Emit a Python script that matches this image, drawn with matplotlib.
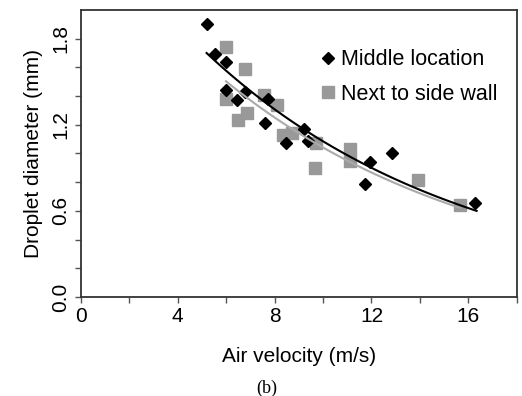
import matplotlib.pyplot as plt
import numpy as np

plt.rcParams['font.family'] = ['Liberation Sans', 'DejaVu Sans']

# middle location (black diamonds)
v_mid = [5.19, 5.53, 5.99, 5.99, 6.43, 6.78, 7.73, 7.61, 9.22, 8.49, 9.36, 11.93, 11.73, 12.84, 16.27]
d_mid = [1.90, 1.69, 1.64, 1.44, 1.37, 1.43, 1.38, 1.21, 1.17, 1.075, 1.09, 0.94, 0.79, 1.00, 0.655]

# next to side wall (grey squares)
v_wall = [5.99, 6.77, 5.99, 7.56, 8.10, 6.84, 6.50, 8.35, 8.70, 9.70, 9.66, 11.13, 11.13, 13.93, 15.65]
d_wall = [1.74, 1.59, 1.38, 1.41, 1.34, 1.28, 1.23, 1.13, 1.145, 1.07, 0.90, 1.03, 0.95, 0.815, 0.64]

# exponential trend lines d = a*exp(b*v)
fit_mid = (2.76, -0.0934, 5.19, 16.34)
fit_wall = (2.60, -0.0915, 5.99, 15.65)

fig = plt.figure(figsize=(5.22, 3.96), dpi=100)
ax = fig.add_axes([0.155, 0.25, 0.835, 0.725])

grey = '#999999'
ax.plot(v_wall, d_wall, 's', color=grey, markersize=8, label='Next to side wall', zorder=2)
ax.plot(v_mid, d_mid, 'D', color='black', markersize=6, label='Middle location', zorder=3)

for (a, b, v0, v1), c, z in [(fit_wall, '#aaaaaa', 4), (fit_mid, 'black', 5)]:
    xs = np.linspace(v0, v1, 100)
    ax.plot(xs, a * np.exp(b * xs), color=c, lw=1.5, zorder=z)

ax.set_xlim(0, 18)
ax.set_ylim(0, 2.0)
ax.set_xticks([0, 4, 8, 12, 16])
ax.set_xticks([2, 6, 10, 14, 18], minor=True)
ax.set_yticks([0.0, 0.6, 1.2, 1.8])
ax.set_yticklabels(['0.0', '0.6', '1.2', '1.8'], rotation=90, va='center')
ax.set_yticks(np.arange(0, 2.0, 0.2), minor=True)
ax.tick_params(which='both', direction='out', labelsize=15, length=4, width=1, color='#555555')
for s in ax.spines.values():
    s.set_linewidth(1.3)
    s.set_color('#333333')

ax.set_xlabel('Air velocity (m/s)', fontsize=15, labelpad=15)
ax.set_ylabel('Droplet diameter (mm)', fontsize=15, labelpad=6)

h, l = ax.get_legend_handles_labels()
ax.legend(h[::-1], l[::-1], loc='upper right', bbox_to_anchor=(1.0, 0.93), frameon=False,
          fontsize=15.5, handletextpad=0.1, handlelength=1.0, labelspacing=0.62)

fig.text(0.511, 0.008, '(b)', fontsize=13, family='Liberation Serif', ha='center')

plt.savefig('out.png', dpi=100)
